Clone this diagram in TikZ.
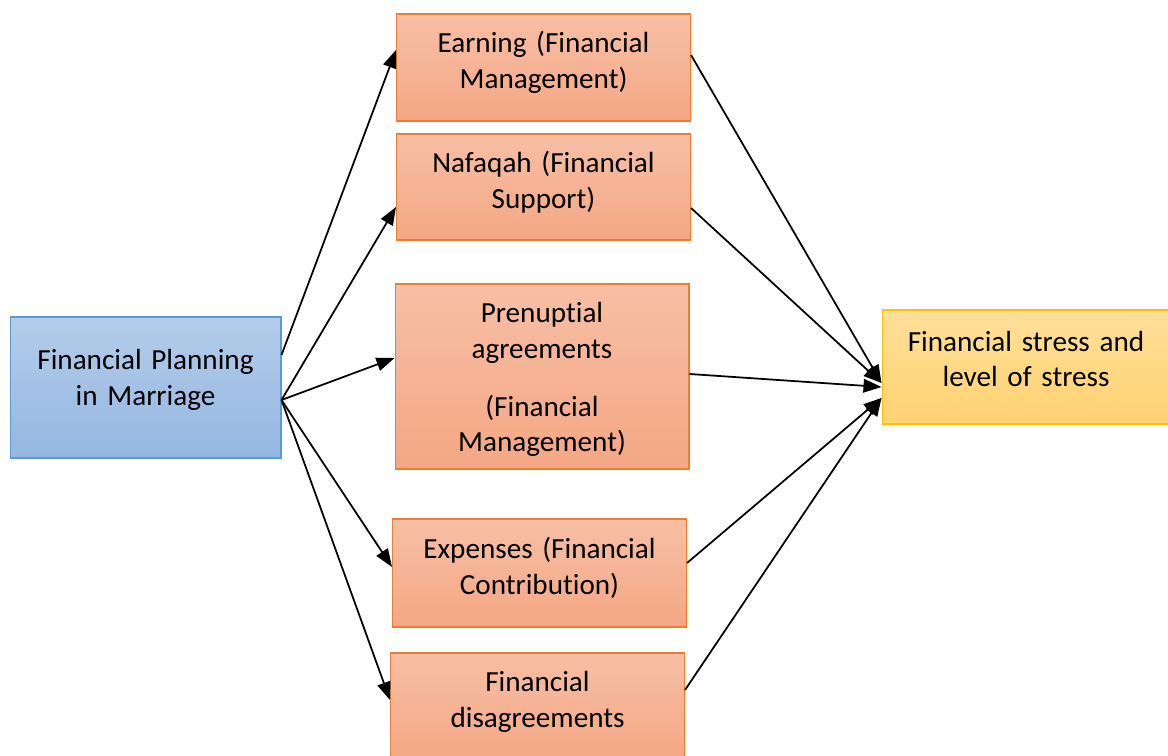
\documentclass[tikz,border=0pt]{standalone}
\usepackage{fontspec}
\setmainfont[Ligatures=NoCommon]{Carlito}
\usetikzlibrary{arrows.meta,positioning}

\definecolor{orangetop}{HTML}{F7BFA5}
\definecolor{orangebot}{HTML}{F4A784}
\definecolor{orangeline}{HTML}{ED7D31}
\definecolor{bluetop}{HTML}{B4CCEA}
\definecolor{bluebot}{HTML}{94B7E1}
\definecolor{blueline}{HTML}{5B9BD5}
\definecolor{yellowtop}{HTML}{FFDF9A}
\definecolor{yellowbot}{HTML}{FFD271}
\definecolor{yellowline}{HTML}{FFC000}

\newcommand{\padend}[1]{\par\vspace{#1}}

\tikzstyle{box} = [rectangle, inner sep=0pt, line width=0.6pt, align=center, font=\fontsize{16.6pt}{20.4pt}\selectfont]
\tikzstyle{factor} = [box, draw=orangeline, top color=orangetop, bottom color=orangebot, minimum width=5.88cm, text width=5.6cm, execute at end node={\padend{0.2cm}}]
\tikzstyle{source} = [box, draw=blueline, top color=bluetop, bottom color=bluebot, minimum width=5.42cm, minimum height=2.82cm, text width=5.2cm, execute at end node={\padend{0.32cm}}]
\tikzstyle{outcome} = [box, draw=yellowline, top color=yellowtop, bottom color=yellowbot, minimum width=5.76cm, minimum height=2.28cm, text width=5.5cm, execute at end node={\padend{0.32cm}}]
\tikzstyle{line} = [draw, line width=1pt, -{Triangle[length=0.36cm, width=0.27cm]}]

\begin{document}
\begin{tikzpicture}[x=0.02cm, y=-0.02cm]

\useasboundingbox (0,0) rectangle (1168,756);

\node [source] (plan) at (145.5,387.5) {Financial Planning\\in Marriage};

\node [factor, minimum height=2.14cm] (earn) at (543.5,67.5) {Earning (Financial\\Management)};

\node [factor, minimum height=2.12cm] (nafaqah) at (543.5,187) {Nafaqah (Financial\\Support)};

\node [factor, minimum height=3.70cm, execute at end node={\vspace{-0.32cm}}] (prenup) at (542,376.5) {Prenuptial\\agreements\\[0.44cm](Financial\\Management)};

\node [factor, minimum height=2.16cm] (expenses) at (539.5,573) {Expenses (Financial\\Contribution)};

\node [factor, minimum height=2.16cm] (disagree) at (537.5,707) {Financial\\disagreements};

\node [outcome] (stress) at (1026,367) {Financial stress and\\level of stress};

% from planning to the factors
\draw [line] ([yshift=0.65cm]plan.east) -- ([yshift=0.35cm]earn.west);

\draw [line] ([yshift=-0.25cm]plan.east) -- ([yshift=-0.4cm]nafaqah.west);

\draw [line] ([yshift=-0.25cm]plan.east) -- ([yshift=0.37cm]prenup.west);

\draw [line] ([yshift=-0.25cm]plan.east) -- ([yshift=0.12cm]expenses.west);

\draw [line] ([yshift=-0.25cm]plan.east) -- ([yshift=0.14cm]disagree.west);

% from the factors to stress
\draw [line] ([yshift=0.25cm]earn.east) -- ([yshift=-0.32cm]stress.west);

\draw [line] ([yshift=-0.42cm]nafaqah.east) -- ([yshift=-0.32cm]stress.west);

\draw [line] ([yshift=0.05cm]prenup.east) -- ([yshift=-0.4cm]stress.west);

\draw [line] ([yshift=0.2cm]expenses.east) -- ([yshift=-0.62cm]stress.west);

\draw [line] ([yshift=0.34cm]disagree.east) -- ([yshift=-0.62cm]stress.west);

\end{tikzpicture}
\end{document}
